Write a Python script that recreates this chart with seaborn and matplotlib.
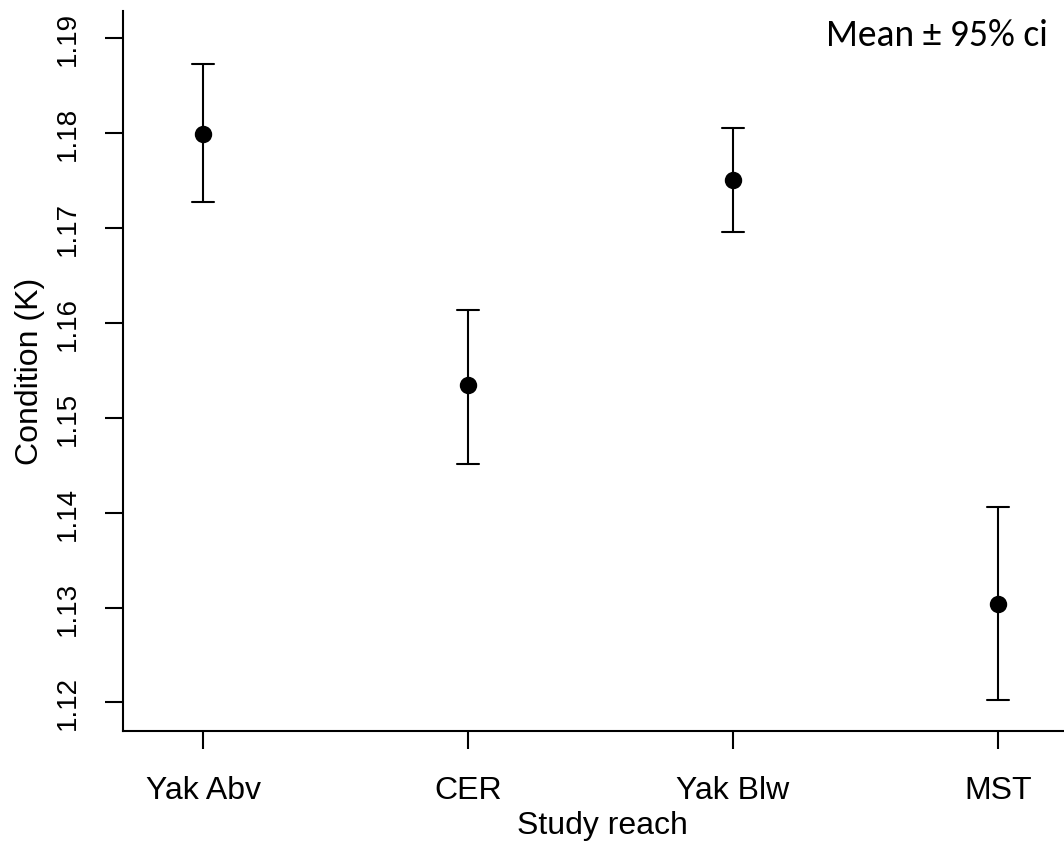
import numpy as np
import pandas as pd
import matplotlib
matplotlib.use("Agg")
import matplotlib.pyplot as plt
from matplotlib import font_manager
import seaborn as sns

# ---- data ----
reaches = ["Yak Abv", "CER", "Yak Blw", "MST"]
means = [1.1799, 1.1534, 1.1750, 1.1304]
ci_low = [1.1727, 1.1451, 1.1696, 1.1203]
ci_high = [1.1873, 1.1614, 1.1805, 1.1406]
y_ticks = [1.12, 1.13, 1.14, 1.15, 1.16, 1.17, 1.18, 1.19]

# long table: lower, mean, upper per reach -> median = mean, range = CI
rows = []
for r, lo, m, hi in zip(reaches, ci_low, means, ci_high):
    for v in (lo, m, hi):
        rows.append({"reach": r, "K": v})
df = pd.DataFrame(rows)

sns.set_theme(style="ticks")
plt.rcParams["font.family"] = ["Liberation Sans", "DejaVu Sans"]

available = {f.name for f in font_manager.fontManager.ttflist}
if "Liberation Sans Narrow" in available:
    ytick_family, ytick_size = ["Liberation Sans Narrow", "DejaVu Sans"], 23
else:
    ytick_family, ytick_size = ["Liberation Sans", "DejaVu Sans"], 20
if "Carlito" in available:
    note_family, note_size = ["Carlito", "DejaVu Sans"], 27
else:
    note_family, note_size = ["Lato", "DejaVu Sans"], 24

fig = plt.figure(figsize=(10.64, 8.45), dpi=100)
ax = fig.add_axes([123 / 1064, 1 - 731.5 / 845, 1 - 123 / 1064, (731.5 - 12) / 845])

sns.pointplot(
    data=df, x="reach", y="K", order=reaches,
    estimator=np.median, errorbar=lambda v: (v.min(), v.max()),
    linestyle="none", color="black", markers="o", markersize=10.5,
    capsize=0.085, err_kws={"linewidth": 1.5}, ax=ax,
)

ax.set_xlim(-0.302, 3.25)
ax.set_ylim(1.11705, 1.19285)
ax.set_yticks(y_ticks)
ax.set_yticklabels([f"{t:.2f}" for t in y_ticks])
ax.set_facecolor("white")

for s in ["top", "right"]:
    ax.spines[s].set_visible(False)
for s in ["left", "bottom"]:
    ax.spines[s].set_linewidth(1.5)
    ax.spines[s].set_color("black")

ax.tick_params(axis="both", length=13, width=1.5, color="black", labelcolor="black")
ax.tick_params(axis="x", pad=19, labelsize=23)
ax.tick_params(axis="y", pad=17, labelrotation=90, labelsize=ytick_size)
for lab in ax.get_yticklabels():
    lab.set_verticalalignment("center")
    lab.set_family(ytick_family)

ax.set_xlabel("Study reach", fontsize=23, color="black")
ax.set_ylabel("Condition (K)", fontsize=23, color="black")
ax.xaxis.set_label_coords(0.51, -0.111)
ax.yaxis.set_label_coords(-0.083, 0.5)

fig.text(826 / 1064, 1 - 46 / 845, "Mean \u00b1 95% ci", fontsize=note_size,
         family=note_family, color="black", ha="left", va="baseline")

fig.savefig("out.png", dpi=100, facecolor="white")
